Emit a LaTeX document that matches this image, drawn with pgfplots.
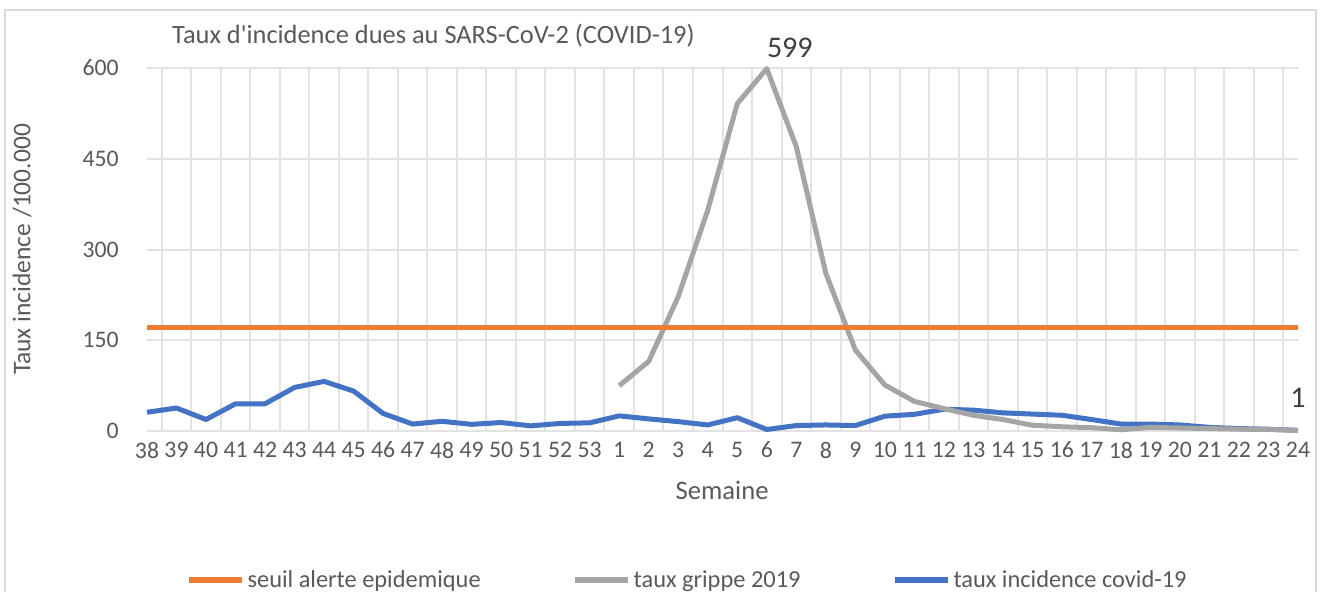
\documentclass[border=0pt]{standalone}
\usepackage{fontspec}
\setmainfont{Carlito}[Ligatures=TeXOff]
\usepackage{pgfplots}
\usepackage{pgfplotstable}
\pgfplotsset{compat=1.18}
\definecolor{txt}{HTML}{595959}
\definecolor{cOrange}{HTML}{ED7D31}
\definecolor{cGray}{HTML}{A5A5A5}
\definecolor{cBlue}{HTML}{4472C4}
\definecolor{gridc}{HTML}{E3E3E3}
\definecolor{framec}{HTML}{D9D9D9}

\pgfplotstableread{
x y
0 31
1 38
2 19
3 45
4 45
5 72
6 82
7 66
8 29
9 11.5
10 16
11 11
12 14
13 8.5
14 12.5
15 13.5
16 25
17 20
18 15.5
19 10
20 22
21 2.5
22 9
23 10
24 9
25 24.5
26 27.5
27 36
28 34.5
29 30
30 28
31 26
32 19
33 11.5
34 11.5
35 10
36 6
37 4
38 3
39 1
}\covid

\pgfplotstableread{
x y
16 75
17 115
18 222
19 365
20 541
21 599
22 470
23 261
24 134
25 76
26 49
27 37
28 26
29 19
30 9.5
31 7
32 5.5
33 2
34 6
35 5
36 4
37 3
38 2.5
39 1
}\grippe

\pgfplotstableread{
x y
0 171
39 171
}\seuil

\begin{document}
\begin{tikzpicture}
\useasboundingbox (-110.25pt,-120.75pt) rectangle (880.5pt,323.25pt);
\draw[framec, line width=1.2pt] (-106.5pt,315.75pt) rectangle (876.75pt,-140pt);
\begin{axis}[
  at={(0,0)}, anchor=south west,
  scale only axis, width=863.25pt, height=272.25pt,
  xmin=0, xmax=39, ymin=0, ymax=600,
  clip=false,
  ytick={0,150,300,450,600},
  xtick={0,...,39},
  xticklabels={38,39,40,41,42,43,44,45,46,47,48,49,50,51,52,53,1,2,3,4,5,6,7,8,9,10,11,12,13,14,15,16,17,18,19,20,21,22,23,24},
  minor xtick={0.5,1.5,...,38.5},
  xminorgrids, ymajorgrids,
  major grid style={gridc, line width=1.5pt},
  minor grid style={gridc, line width=1.5pt},
  axis line style={draw=none},
  major tick length=0pt, minor tick length=0pt,
  /pgf/number format/assume math mode=true,
  tick label style={font=\fontsize{17.8}{19}\selectfont, text=txt},
  xticklabel style={anchor=north, inner sep=0pt},
  xticklabel shift=8pt,
  yticklabel style={anchor=east, inner sep=0pt},
  yticklabel shift=21pt,
  ylabel={Taux incidence /100.000},
  ylabel style={at={(axis description cs:-0.1086,0.5)}, anchor=center, font=\fontsize{19.1}{21}\selectfont, text=txt},
  xlabel={Semaine},
  xlabel style={at={(axis description cs:0.4996,-0.1625)}, anchor=center, font=\fontsize{20}{22}\selectfont, text=txt},
  reverse legend,
  legend columns=3,
  legend style={at={(axis description cs:0.033,-0.4105)}, anchor=west, draw=none, fill=none, inner sep=0pt,
    font=\fontsize{18.3}{20}\selectfont, text=txt,
    /tikz/every even column/.append style={column sep=66pt}},
  legend image code/.code={\draw[line width=5pt] (0pt,0pt) -- (39.75pt,0pt);},
  line join=round,
]
\addplot[cBlue, line width=3.75pt] table[x=x,y=y]{\covid};
\addlegendentry{taux incidence covid-19}
\addplot[cGray, line width=3.75pt] table[x=x,y=y]{\grippe};
\addlegendentry{taux grippe 2019}
\addplot[cOrange, line width=3.75pt] table[x=x,y=y]{\seuil};
\addlegendentry{seuil alerte epidemique}
\node[anchor=west, font=\fontsize{19.8}{21}\selectfont, text=txt, inner sep=0pt] at (axis description cs:0.0217,1.088) {Taux d'incidence dues au SARS-CoV-2 (COVID-19)};
\node[anchor=south west, inner sep=0pt, font=\fontsize{22.5}{24}\selectfont, text=black!75] at (axis cs:21,599) [yshift=8pt] {599};
\node[anchor=south, inner sep=0pt, font=\fontsize{22.5}{24}\selectfont, text=black!75] at (axis cs:39,1) [yshift=17pt] {1};
\end{axis}
\end{tikzpicture}
\end{document}
